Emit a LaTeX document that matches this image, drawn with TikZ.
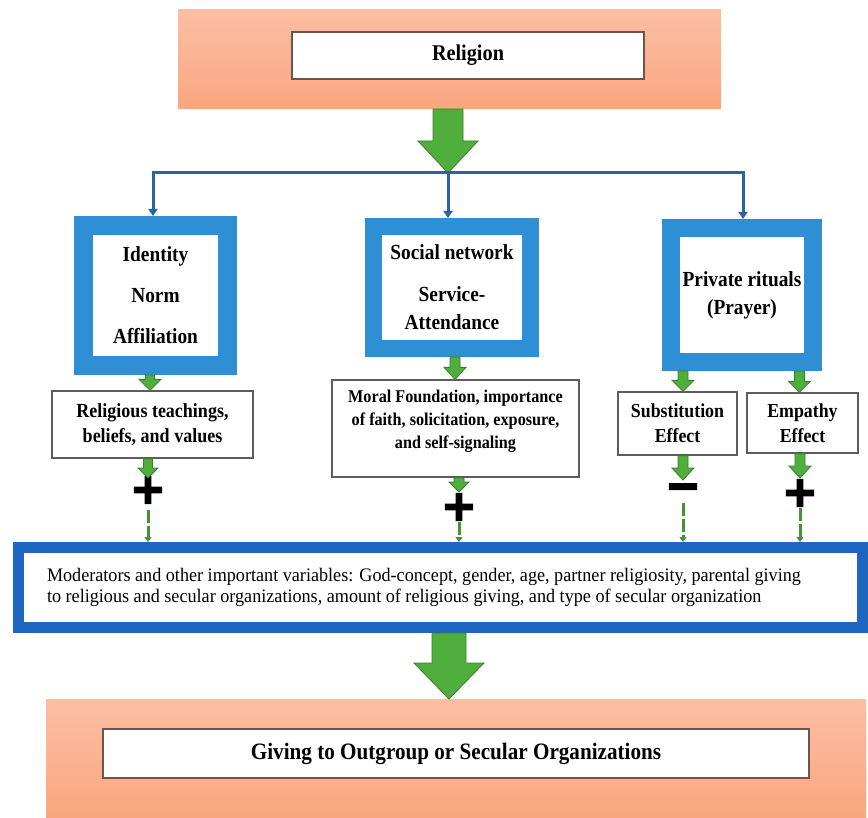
\documentclass[tikz,border=0pt]{standalone}
\usepackage{fontspec}
\setmainfont{Liberation Serif}[FakeStretch=0.9]
\newfontfamily\modfont{Liberation Serif}[FakeStretch=0.95]
\newfontfamily\signfont{DejaVu Sans}[UprightFont={* Bold},FakeBold=5]
\usetikzlibrary{arrows.meta,calc}
\definecolor{salTop}{HTML}{FCBFA4}
\definecolor{salBot}{HTML}{F9A67F}
\definecolor{frameBrown}{HTML}{6E554C}
\definecolor{frameGray}{HTML}{5C5C5C}
\definecolor{boxBlue}{HTML}{2E8FD4}
\definecolor{linkBlue}{HTML}{2B62A6}
\definecolor{modBlue}{HTML}{1E66BF}
\definecolor{gFill}{HTML}{4FAE3C}
\definecolor{gDark}{HTML}{3B7F2E}
% vertical green block arrow: [opts]{from}{to}{half shaft}{half head}{head length}
\newcommand\varrow[6][]{%
  \draw[garrow,#1] let \p1=(#2), \p2=(#3) in
    (\x2-#4pt,\y1) -- (\x2+#4pt,\y1) -- (\x2+#4pt,\y2+#6pt) -- (\x2+#5pt,\y2+#6pt)
    -- (\x2,\y2) -- (\x2-#5pt,\y2+#6pt) -- (\x2-#4pt,\y2+#6pt) -- cycle;}
\begin{document}
\begin{tikzpicture}[x=1pt,y=-1pt,
  salmon/.style={draw=none,inner sep=0pt,outer sep=0pt,top color=salTop,bottom color=salBot},
  pbox/.style={draw=frameBrown,line width=1.5pt,fill=white,inner sep=0pt},
  bluebox/.style={draw=boxBlue,fill=white,align=center,inner sep=0pt},
  tbox/.style={draw=frameGray,line width=1.2pt,fill=white,align=center,inner sep=0pt},
  garrow/.style={fill=gFill,draw=gDark,line width=0.8pt,line join=miter},
  gdash/.style={draw=gFill!85!black,line width=3pt,dash pattern=on 13pt off 3pt,-{Triangle[width=7pt,length=5pt]}},
  bline/.style={draw=linkBlue,line width=3pt},
  btip/.style={-{Triangle[width=9pt,length=7pt]}},
  signnode/.style={inner sep=0pt,font=\signfont\fontsize{42}{42}\selectfont}
]
\useasboundingbox (0,0) rectangle (868,818);
\fill[white] (0,0) rectangle (868,818);

% top
\node[salmon,minimum width=543pt,minimum height=99pt] (topband) at (449.5,59.5) {};
\node[pbox,minimum width=352pt,minimum height=47pt,font=\bfseries\fontsize{22.5}{27}\selectfont] (religion) at (468,55.5) {Religion};
\coordinate (j) at (448,173);
\coordinate (jl) at (153,173);
\coordinate (jr) at (743,173);
\varrow{topband.south}{j}{15}{30}{32}

% blue boxes
\node[bluebox,line width=19pt,minimum width=144pt,minimum height=140pt,font=\bfseries\fontsize{21.5}{41}\selectfont] (b1) at (155.5,295.5) {Identity\\Norm\\Affiliation};
\node[bluebox,line width=17pt,minimum width=157pt,minimum height=122pt,font=\bfseries\fontsize{21.5}{28}\selectfont] (b2) at (452,287.5) {Social network\\[14pt]Service-\\Attendance};
\node[bluebox,line width=18pt,minimum width=142pt,minimum height=134pt,font=\bfseries\fontsize{21.5}{28}\selectfont] (b3) at (742,295) {Private rituals\\(Prayer)};

% blue connectors
\draw[bline,{Triangle[width=9pt,length=7pt]}-{Triangle[width=9pt,length=7pt]}] (jl |- b1.north) -- (jl) -- (jr) -- (jr |- b3.north);
\draw[bline,btip] (j) -- (j |- b2.north);

% text boxes
\node[tbox,minimum width=201pt,minimum height=67pt,font=\bfseries\fontsize{20}{25}\selectfont] (rt) at (152.5,424.5) {Religious teachings,\\beliefs, and values};
\node[tbox,minimum width=247pt,minimum height=97pt,font=\bfseries\fontsize{18}{23}\selectfont] (mf) at (455.5,428.5) {Moral Foundation, importance\\of faith, solicitation, exposure,\\and self-signaling\\[-4pt]\mbox{}};
\node[tbox,minimum width=119pt,minimum height=63pt,font=\bfseries\fontsize{19.8}{25}\selectfont] (sub) at (677.5,423.5) {Substitution\\Effect};
\node[tbox,minimum width=111pt,minimum height=60pt,font=\bfseries\fontsize{19.8}{25}\selectfont] (emp) at (802.5,423) {Empathy\\Effect};

\varrow{b1.south}{[xshift=-2.5pt]rt.north}{4.5}{11}{11}
\varrow{b2.south}{[xshift=-0.5pt]mf.north}{5}{11}{12}
\varrow{b3.south}{[xshift=5.5pt]sub.north}{5}{11}{11}
\varrow{b3.south}{[xshift=-3pt]emp.north}{5}{11}{11}

% signs
\node[signnode] (s1) at (148,490) {+};
\node[signnode] (s2) at (459,507) {+};
\node[signnode] (s3) at (683,492) {−};
\node[signnode] (s4) at (800,493) {+};

\varrow{rt.south}{[yshift=12pt]s1.center}{4.5}{10}{10}
\varrow{mf.south}{[yshift=15pt]s2.center}{5}{10}{10}
\varrow{sub.south}{[yshift=12pt]s3.center}{5}{11}{12}
\varrow{emp.south}{[yshift=15pt]s4.center}{5}{11}{12}

% moderators
\node[draw=modBlue,line width=11pt,fill=white,minimum width=844pt,minimum height=80pt,inner xsep=28.5pt,inner ysep=0pt,text width=787pt,align=flush left,font=\modfont\fontsize{19.1}{21}\selectfont] (mod) at (440.5,587.5) {Moderators and other important variables: God-concept, gender, age, partner religiosity, parental giving\\to religious and secular organizations, amount of religious giving, and type of secular organization};

\draw[gdash] ([yshift=-20pt]s1.center) -- (s1.center |- mod.north);
\draw[gdash] ([yshift=-15pt]s2.center) -- (s2.center |- mod.north);
\draw[gdash] ([yshift=-11pt]s3.center) -- (s3.center |- mod.north);
\draw[gdash] ([yshift=-15pt]s4.center) -- (s4.center |- mod.north);

% bottom
\node[salmon,minimum width=820pt,minimum height=119pt] (botband) at (456,758.5) {};
\node[pbox,minimum width=706pt,minimum height=49pt,font=\bfseries\fontsize{23.5}{28}\selectfont] (giving) at (456,753.5) {Giving to Outgroup or Secular Organizations};
\varrow{mod.south}{[xshift=-7pt]botband.north}{17}{35}{36}
\end{tikzpicture}
\end{document}
